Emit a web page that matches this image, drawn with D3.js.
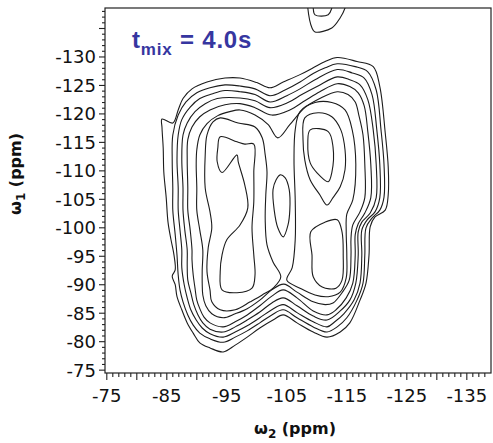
<!DOCTYPE html>
<html><head><meta charset="utf-8">
<script src="https://cdn.jsdelivr.net/npm/d3@7"></script>
<style>body{margin:0;background:#fff}svg{display:block}</style>
</head><body><svg id="c" width="493" height="443"></svg>
<script>
// ---- data (ppm) ----
const xTickLabels = [-75,-85,-95,-105,-115,-125,-135];
const yTickLabels = [-75,-80,-85,-90,-95,-100,-105,-110,-115,-120,-125,-130];
const xDomain = [-74.7,-139.03];
const yDomain = [-74.5,-138.6];

const level1 = [[-84.2,-119.1],[-86.0,-118.4],[-86.9,-120.7],[-87.7,-122.7],[-89.2,-124.4],[-91.7,-125.6],[-94.7,-126.3],[-97.2,-126.3],[-100.0,-125.5],[-102.2,-124.6],[-104.4,-125.6],[-107.2,-126.9],[-109.4,-128.1],[-111.4,-129.2],[-113.4,-129.9],[-116.7,-129.2],[-119.4,-128.3],[-120.5,-124.8],[-121.4,-116.7],[-121.9,-110.7],[-121.9,-105.8],[-121.4,-103.1],[-119.7,-101.9],[-118.9,-100.2],[-118.7,-95.2],[-118.2,-90.3],[-117.2,-87.3],[-115.5,-83.3],[-113.9,-81.7],[-111.7,-80.8],[-109.4,-81.7],[-106.7,-83.3],[-104.4,-84.7],[-102.7,-83.8],[-100.5,-82.4],[-98.4,-80.8],[-96.4,-79.4],[-94.4,-78.2],[-92.2,-78.9],[-90.5,-79.8],[-89.4,-81.5],[-88.4,-83.3],[-87.5,-85.6],[-86.7,-87.9],[-86.4,-90.0],[-85.9,-91.5],[-86.4,-92.6],[-86.2,-95.2],[-85.7,-97.9],[-85.2,-101.0],[-84.9,-105.3],[-84.5,-109.8],[-84.4,-114.0],[-84.2,-117.6]];
const level2 = [[-86.0,-116.3],[-86.9,-119.8],[-88.2,-122.1],[-90.0,-123.7],[-92.2,-124.6],[-94.7,-125.1],[-97.2,-124.9],[-99.7,-124.4],[-102.2,-123.2],[-104.7,-124.2],[-107.2,-125.6],[-109.4,-127.1],[-111.4,-128.1],[-113.4,-128.8],[-116.4,-128.3],[-118.5,-127.4],[-119.9,-124.2],[-120.7,-117.2],[-121.2,-111.1],[-121.2,-105.4],[-120.5,-103.1],[-119.2,-101.7],[-118.2,-100.0],[-118.0,-95.2],[-117.7,-90.3],[-116.7,-87.3],[-115.0,-84.2],[-113.4,-82.6],[-111.7,-81.7],[-109.4,-82.6],[-106.7,-84.2],[-104.4,-85.6],[-102.5,-84.7],[-100.5,-83.3],[-98.4,-81.9],[-96.4,-80.8],[-94.4,-79.9],[-92.2,-80.5],[-90.5,-81.5],[-89.4,-82.9],[-88.5,-84.7],[-87.7,-87.0],[-87.2,-89.1],[-86.9,-91.7],[-86.7,-95.2],[-86.4,-98.8],[-86.0,-103.1],[-86.0,-107.0],[-85.9,-111.9]];
const level3 = [[-86.9,-116.3],[-87.5,-119.0],[-88.9,-121.2],[-90.5,-122.7],[-92.5,-123.5],[-94.7,-124.1],[-97.2,-123.9],[-99.7,-123.4],[-102.2,-122.1],[-105.0,-123.2],[-107.2,-124.4],[-109.7,-126.0],[-113.4,-127.8],[-115.9,-127.2],[-117.9,-126.3],[-119.2,-123.4],[-120.0,-117.2],[-120.5,-111.1],[-120.5,-105.3],[-119.7,-102.8],[-118.4,-101.4],[-117.5,-99.6],[-117.5,-95.2],[-117.2,-90.3],[-116.2,-87.3],[-114.5,-84.9],[-113.0,-83.5],[-111.7,-82.6],[-109.4,-83.5],[-106.7,-85.1],[-104.4,-86.5],[-102.5,-85.6],[-100.5,-84.2],[-98.4,-82.8],[-96.4,-81.7],[-94.4,-80.8],[-92.2,-81.4],[-90.9,-82.4],[-89.9,-83.8],[-89.0,-85.6],[-88.4,-87.7],[-87.9,-90.0],[-87.5,-93.0],[-87.5,-96.1],[-87.2,-99.6],[-86.9,-103.1],[-86.9,-107.0],[-86.7,-111.9]];
const level4 = [[-87.7,-116.3],[-88.4,-118.4],[-89.7,-120.4],[-91.4,-121.8],[-93.4,-122.7],[-97.2,-122.8],[-99.7,-122.3],[-102.2,-121.1],[-105.2,-122.0],[-107.5,-123.4],[-110.2,-124.9],[-113.4,-126.5],[-115.5,-126.0],[-117.2,-125.1],[-118.5,-122.5],[-119.4,-117.2],[-119.9,-111.1],[-119.9,-105.3],[-118.9,-102.6],[-117.5,-101.0],[-116.9,-99.3],[-116.9,-95.2],[-116.5,-90.3],[-115.5,-87.3],[-113.9,-85.4],[-111.7,-83.8],[-109.4,-84.5],[-106.7,-86.3],[-104.4,-87.7],[-102.5,-86.8],[-100.5,-85.2],[-98.4,-83.8],[-96.4,-82.6],[-94.4,-81.7],[-92.2,-82.2],[-91.0,-83.3],[-90.2,-84.7],[-89.5,-86.5],[-89.0,-88.6],[-88.5,-90.8],[-88.4,-93.5],[-88.4,-96.1],[-88.0,-99.6],[-87.7,-103.1],[-87.7,-107.0],[-87.5,-111.9]];
const level5 = [[-88.5,-115.5],[-89.2,-117.7],[-90.5,-119.5],[-92.2,-120.7],[-94.7,-121.6],[-97.2,-121.8],[-99.7,-121.1],[-102.5,-119.8],[-105.5,-120.7],[-108.0,-122.3],[-110.5,-123.9],[-113.4,-125.3],[-115.5,-124.8],[-116.9,-123.7],[-117.9,-121.4],[-118.5,-116.9],[-119.0,-111.1],[-119.0,-105.3],[-118.0,-102.6],[-116.9,-100.7],[-116.4,-98.8],[-116.4,-95.2],[-116.0,-90.3],[-114.9,-87.7],[-113.2,-85.6],[-111.7,-84.7],[-109.4,-85.4],[-106.7,-87.7],[-104.4,-89.1],[-102.5,-88.0],[-100.5,-86.3],[-98.4,-84.7],[-96.4,-83.5],[-94.4,-82.6],[-92.2,-83.3],[-91.2,-84.3],[-90.5,-85.8],[-90.0,-87.3],[-89.7,-89.4],[-89.4,-91.7],[-89.2,-94.4],[-89.2,-96.1],[-88.9,-99.6],[-88.5,-103.1],[-88.5,-107.0],[-88.4,-111.9]];
const level6 = [[-90.0,-113.7],[-90.5,-116.3],[-91.7,-118.3],[-93.5,-119.7],[-95.5,-120.4],[-97.2,-120.7],[-99.7,-119.8],[-101.9,-118.1],[-103.5,-115.8],[-105.5,-118.1],[-108.0,-121.1],[-110.5,-122.7],[-113.4,-123.9],[-115.2,-123.4],[-116.4,-122.1],[-117.0,-119.8],[-117.7,-116.3],[-118.0,-111.1],[-118.0,-105.3],[-117.2,-102.8],[-116.0,-100.5],[-115.7,-98.2],[-115.7,-95.2],[-115.4,-90.8],[-114.2,-88.6],[-112.7,-86.8],[-111.4,-86.5],[-109.4,-87.0],[-106.7,-88.7],[-104.5,-90.1],[-102.5,-89.1],[-100.5,-87.3],[-98.4,-85.8],[-96.4,-84.9],[-94.4,-84.2],[-92.5,-84.9],[-91.5,-86.3],[-91.0,-88.2],[-90.9,-90.3],[-90.9,-92.6],[-91.0,-96.1],[-90.5,-99.6],[-90.0,-103.1],[-90.0,-107.0],[-89.9,-111.1]];
const level6Hole = [[-103.9,-109.3],[-104.7,-108.8],[-105.4,-106.7],[-105.5,-103.1],[-105.2,-100.5],[-104.4,-98.4],[-103.5,-100.0],[-102.9,-103.1],[-102.7,-106.7],[-103.2,-108.4]];
const level7Left = [[-92.7,-118.6],[-93.9,-119.3],[-96.9,-118.4],[-99.7,-117.7],[-100.9,-115.8],[-101.4,-112.8],[-101.7,-109.8],[-101.5,-105.8],[-101.4,-101.4],[-101.7,-97.0],[-102.7,-94.0],[-104.0,-91.4],[-102.9,-89.6],[-100.9,-88.2],[-98.9,-87.0],[-96.4,-85.6],[-93.9,-85.6],[-92.5,-87.0],[-92.2,-89.1],[-91.7,-92.3],[-91.9,-96.5],[-92.5,-100.0],[-92.2,-102.8],[-91.4,-107.0],[-91.4,-112.8],[-91.7,-116.3]];
const level7Right = [[-107.2,-120.4],[-109.7,-122.0],[-112.5,-122.0],[-114.7,-120.7],[-115.9,-117.2],[-116.5,-111.1],[-116.0,-104.9],[-115.0,-102.4],[-114.9,-99.3],[-115.0,-95.2],[-114.9,-91.2],[-113.9,-88.7],[-111.9,-87.9],[-109.7,-88.2],[-107.2,-89.4],[-105.0,-90.8],[-105.9,-93.0],[-106.4,-97.9],[-106.4,-104.9],[-106.2,-111.9],[-106.4,-117.2]];
const level8Left = [[-93.9,-116.0],[-96.7,-115.1],[-98.0,-114.7],[-99.5,-114.7],[-99.5,-109.8],[-99.5,-104.6],[-99.2,-100.0],[-99.5,-95.2],[-99.7,-91.7],[-99.2,-89.4],[-96.7,-88.6],[-94.2,-89.1],[-93.9,-92.3],[-94.2,-95.2],[-95.0,-97.9],[-97.2,-100.5],[-98.5,-103.5],[-98.0,-107.5],[-96.9,-111.6],[-96.7,-112.8],[-94.2,-109.7],[-93.4,-111.6],[-93.5,-114.0]];
const level8Right = [[-108.0,-119.3],[-110.2,-120.2],[-112.5,-119.5],[-114.0,-117.2],[-114.7,-113.7],[-114.7,-110.2],[-113.9,-107.2],[-112.7,-105.3],[-111.7,-104.0],[-110.5,-105.8],[-108.9,-108.4],[-108.0,-111.9],[-107.7,-115.5]];
const level8LowerRight = [[-109.0,-99.3],[-109.2,-95.2],[-109.4,-91.4],[-110.9,-89.6],[-113.2,-89.4],[-114.2,-90.8],[-114.4,-95.2],[-114.2,-99.3],[-113.4,-101.4],[-111.4,-101.0]];
const level9Right = [[-108.9,-117.2],[-111.9,-116.9],[-112.7,-114.2],[-112.5,-109.7],[-111.9,-108.1],[-110.0,-109.7],[-108.9,-111.4],[-108.5,-114.9]];
const topOuter = [[-108.5,-139.7],[-108.5,-138.6],[-109.2,-135.1],[-109.7,-134.4],[-112.5,-135.1],[-113.9,-136.9],[-114.7,-138.6],[-114.9,-139.7]];
const topInner = [[-109.4,-139.7],[-109.4,-138.6],[-109.7,-137.4],[-111.9,-137.4],[-112.5,-138.6],[-112.7,-139.7]];

const contours = [level1,level2,level3,level4,level5,level6,level6Hole,level7Left,level7Right,level8Left,level8Right,level8LowerRight,level9Right,topOuter,topInner];

// ---- drawing ----
const svg = d3.select('#c');
const L = 105, R = 491, T = 8, B = 373;
const x = d3.scaleLinear().domain(xDomain).range([L, R]);
const y = d3.scaleLinear().domain(yDomain).range([B, T]);

svg.append('defs').append('clipPath').attr('id','clip')
  .append('rect').attr('x',L).attr('y',T).attr('width',R-L).attr('height',B-T);

const line = d3.line().x(d=>x(d[0])).y(d=>y(d[1])).curve(d3.curveCatmullRomClosed.alpha(0.5));
svg.append('g').attr('clip-path','url(#clip)')
  .selectAll('path').data(contours).join('path')
  .attr('d', line).attr('fill','none').attr('stroke','#1c1c1c').attr('stroke-width',1.1);

// frame
svg.append('rect').attr('x',L).attr('y',T).attr('width',R-L).attr('height',B-T)
  .attr('fill','none').attr('stroke','#222').attr('stroke-width',1.2);

const tickFont = '"DejaVu Sans", sans-serif';
// x axis
const xMinor = d3.range(-75,-139,-1);
const xAx = svg.append('g').attr('transform',`translate(0,${B})`);
xAx.selectAll('line').data(xMinor).join('line')
  .attr('x1',d=>x(d)).attr('x2',d=>x(d)).attr('y1',0)
  .attr('y2',d=>d%5===0?7:4).attr('stroke','#222').attr('stroke-width',1.1);
xAx.selectAll('text').data(xTickLabels).join('text')
  .attr('x',d=>x(d)).attr('y',29).attr('text-anchor','middle')
  .attr('font-family',tickFont).attr('font-size',18).attr('fill','#111')
  .text(d=>d);
// y axis
const yMinor = d3.range(-75,-139,-1);
const yAx = svg.append('g').attr('transform',`translate(${L},0)`);
yAx.selectAll('line').data(yMinor).join('line')
  .attr('y1',d=>y(d)).attr('y2',d=>y(d)).attr('x1',0)
  .attr('x2',d=>d%5===0?-6:-3).attr('stroke','#222').attr('stroke-width',1.1);
yAx.selectAll('text').data(yTickLabels).join('text')
  .attr('x',-9).attr('y',d=>y(d)).attr('dy','0.36em').attr('text-anchor','end')
  .attr('font-family',tickFont).attr('font-size',18).attr('fill','#111')
  .text(d=>d);

// axis titles
const xt = svg.append('text').attr('x',295).attr('y',434).attr('text-anchor','middle')
  .attr('font-family',tickFont).attr('font-weight','bold').attr('font-size',16).attr('fill','#111');
xt.append('tspan').text('ω');
xt.append('tspan').attr('font-size',12).attr('dy',4).text('2');
xt.append('tspan').attr('dy',-4).text(' (ppm)');

const yt = svg.append('text').attr('transform','translate(21,174) rotate(-90)').attr('text-anchor','middle')
  .attr('font-family',tickFont).attr('font-weight','bold').attr('font-size',16).attr('fill','#111');
yt.append('tspan').text('ω');
yt.append('tspan').attr('font-size',12).attr('dy',4).text('1');
yt.append('tspan').attr('dy',-4).text(' (ppm)');

// title
const tt = svg.append('text').attr('x',132).attr('y',48)
  .attr('font-family','"Liberation Sans", Arial, sans-serif').attr('font-weight','bold')
  .attr('font-size',24).attr('fill','#3636a0').attr('letter-spacing',0.8);
tt.append('tspan').text('t');
tt.append('tspan').attr('font-size',17).attr('dy',7).text('mix');
tt.append('tspan').attr('dy',-7).text(' = 4.0s');
</script></body></html>
